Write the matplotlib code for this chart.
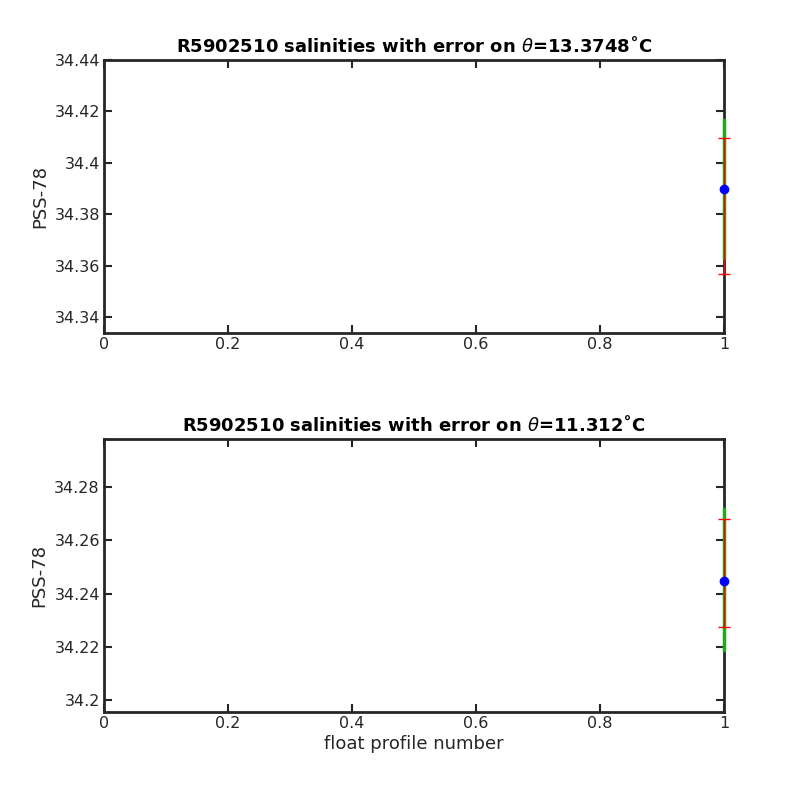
import matplotlib
matplotlib.use("Agg")
import matplotlib.pyplot as plt
from matplotlib.ticker import FuncFormatter

# float profile numbers (only one profile)
profile = [1]

# one panel per theta level
theta = ["13.3748", "11.312"]
sal_mean = [34.3898, 34.2449]
red_lo = [34.3569, 34.2275]
red_hi = [34.4095, 34.2679]
green_lo = [34.3630, 34.2189]
green_hi = [34.4167, 34.2717]
ylims = [(34.3338, 34.44), (34.1956, 34.2980)]
yticks = [[34.34, 34.36, 34.38, 34.40, 34.42, 34.44],
          [34.20, 34.22, 34.24, 34.26, 34.28]]
xticks = [0, 0.2, 0.4, 0.6, 0.8, 1]

plt.rcParams["font.family"] = ["DejaVu Sans"]
plt.rcParams["mathtext.fontset"] = "dejavusans"

fig = plt.figure(figsize=(8, 8), dpi=100)
positions = [[0.13, 0.5838, 0.775, 0.3412], [0.13, 0.11, 0.775, 0.3412]]
fmt = FuncFormatter(lambda v, p: f"{v:g}")
dark = "#262626"

for i in range(2):
    ax = fig.add_axes(positions[i])
    x = profile[0]
    ax.plot([x, x], [green_lo[i], green_hi[i]], color="#22a822", lw=2.5, clip_on=False, zorder=3)
    ax.errorbar(profile, [sal_mean[i]],
                yerr=[[sal_mean[i] - red_lo[i]], [red_hi[i] - sal_mean[i]]],
                fmt="none", ecolor="red", elinewidth=1, capsize=4, capthick=1,
                clip_on=False, zorder=4)
    ax.plot(profile, [sal_mean[i]], "o", color="blue", ms=6, clip_on=False, zorder=5)

    ax.set_xlim(0, 1)
    ax.set_ylim(*ylims[i])
    ax.set_xticks(xticks)
    ax.set_yticks(yticks[i])
    ax.xaxis.set_major_formatter(fmt)
    ax.yaxis.set_major_formatter(fmt)
    ax.tick_params(direction="in", top=True, right=True, length=6, width=1.5,
                   colors=dark, labelsize=11.5, labelcolor=dark, pad=3)
    for s in ax.spines.values():
        s.set_linewidth(2)
        s.set_color(dark)
    ax.set_ylabel("PSS-78", fontsize=13, color=dark, labelpad=4)
    ax.set_title("R5902510 salinities with error on $\\theta$=" + theta[i] + "\u02daC",
                 fontsize=13, fontweight="bold", pad=6)
    if i == 1:
        ax.set_xlabel("float profile number", fontsize=13, color=dark, labelpad=3)

fig.savefig("out.png", dpi=100, facecolor="white")
